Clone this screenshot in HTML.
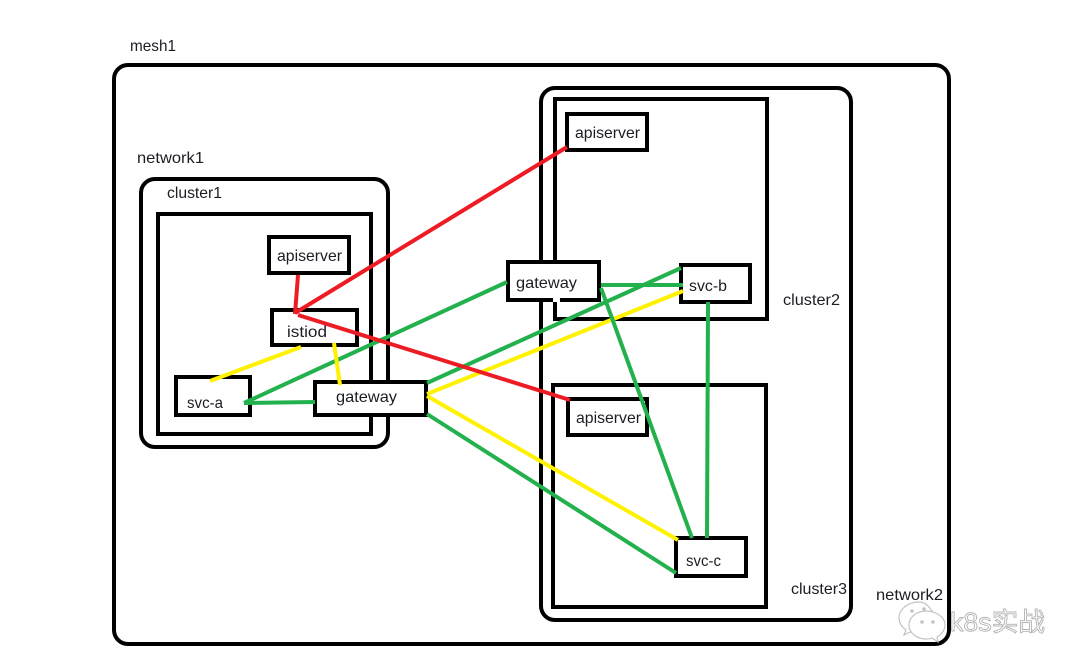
<!DOCTYPE html>
<html>
<head>
<meta charset="utf-8">
<style>
html,body{margin:0;padding:0;background:#fff;width:1080px;height:669px;overflow:hidden}
svg{display:block}
text{font-family:"Liberation Sans","Noto Sans CJK SC",sans-serif;font-size:16px;fill:#1c1c24}
rect{stroke:#000;stroke-width:4;fill:none}
rect.w{fill:#fff}
.r,.y,.g{fill:none;stroke-width:4;stroke-linecap:butt}
.r{stroke:#ed1c24}.y{stroke:#fff200}.g{stroke:#22b14c}
</style>
</head>
<body>
<svg width="1080" height="669" viewBox="0 0 1080 669" xmlns="http://www.w3.org/2000/svg">
<rect x="0" y="0" width="1080" height="669" fill="#fff" style="stroke:none"/>
<!-- containers -->
<rect x="114" y="65" width="835" height="579" rx="14"/>
<rect x="141" y="179" width="247" height="268" rx="14"/>
<rect x="158" y="214" width="213" height="220"/>
<rect x="541" y="88" width="310" height="532" rx="14"/>
<rect x="555" y="99" width="212" height="220"/>
<rect x="553" y="385" width="213" height="222"/>
<!-- nodes -->
<rect class="w" x="269" y="237" width="80" height="36"/>
<rect class="w" x="272" y="310" width="85" height="35"/>
<rect class="w" x="176" y="377" width="74" height="38"/>
<rect class="w" x="315" y="382" width="111" height="33"/>
<rect class="w" x="567" y="114" width="80" height="36"/>
<rect class="w" x="568" y="399" width="79" height="36"/>
<rect class="w" x="508" y="262" width="91" height="38"/>
<rect class="w" x="681" y="265" width="69" height="37"/>
<rect class="w" x="676" y="538" width="70" height="38"/>
<path d="M553 298h7v4h-7z" fill="#fff"/>
<!-- connectors -->
<path class="g" d="M244 403L507 282"/>
<path class="g" d="M244 403L315 402"/>
<path class="g" d="M427 383L681 268"/>
<path class="g" d="M427 414L676 573"/>
<path class="y" d="M301 347L210 381"/>
<path class="y" d="M334 343L340 385"/>
<path class="y" d="M427 394L683 291"/>
<path class="y" d="M427 396L678 540"/>
<path class="r" d="M298 275L295 314"/>
<path class="r" d="M295 313L567 147"/>
<path class="r" d="M298 315L570 400"/>
<path class="g" d="M601 285L683 285"/>
<path class="g" d="M601 288L692 538"/>
<path class="g" d="M708 302L707 538"/>
<!-- labels -->
<text x="130" y="51" textLength="46" lengthAdjust="spacingAndGlyphs">mesh1</text>
<text x="137" y="163" textLength="67" lengthAdjust="spacingAndGlyphs">network1</text>
<text x="167" y="198" textLength="55" lengthAdjust="spacingAndGlyphs">cluster1</text>
<text x="277" y="261" textLength="65" lengthAdjust="spacingAndGlyphs">apiserver</text>
<text x="287" y="337" textLength="40" lengthAdjust="spacingAndGlyphs">istiod</text>
<text x="187" y="408" textLength="36" lengthAdjust="spacingAndGlyphs">svc-a</text>
<text x="336" y="402" textLength="61" lengthAdjust="spacingAndGlyphs">gateway</text>
<text x="575" y="138" textLength="65" lengthAdjust="spacingAndGlyphs">apiserver</text>
<text x="516" y="288" textLength="61" lengthAdjust="spacingAndGlyphs">gateway</text>
<text x="689" y="291" textLength="38" lengthAdjust="spacingAndGlyphs">svc-b</text>
<text x="783" y="305" textLength="57" lengthAdjust="spacingAndGlyphs">cluster2</text>
<text x="576" y="423" textLength="65" lengthAdjust="spacingAndGlyphs">apiserver</text>
<text x="686" y="566" textLength="35" lengthAdjust="spacingAndGlyphs">svc-c</text>
<text x="791" y="594" textLength="56" lengthAdjust="spacingAndGlyphs">cluster3</text>
<text x="876" y="600" textLength="67" lengthAdjust="spacingAndGlyphs">network2</text>
<!-- watermark -->
<g fill="#fff" stroke="#c4c4c4" stroke-width="1.2">
<path d="M919 602c-11 0-20 7-20 16 0 5 3 9 7 12l-2 5 6-3c3 1 6 1 9 1l17-11c-2-11-9-20-17-20z"/>
<path d="M926 611c-9 0-17 6-17 14s8 14 17 14c2 0 4 0 6-1l6 4-1-5c5-3 8-7 8-12 0-8-9-14-19-14z"/>
<circle cx="912" cy="611" r="1.2" fill="#c4c4c4"/><circle cx="924" cy="609" r="1.2" fill="#c4c4c4"/>
<circle cx="922" cy="622" r="1.2" fill="#c4c4c4"/><circle cx="933" cy="622" r="1.2" fill="#c4c4c4"/>
</g>
<text x="950" y="631" textLength="95" lengthAdjust="spacingAndGlyphs" style="font-size:26px;fill:#fff;stroke:#b4b4b4;stroke-width:0.9">k8s实战</text>
</svg>
</body>
</html>
